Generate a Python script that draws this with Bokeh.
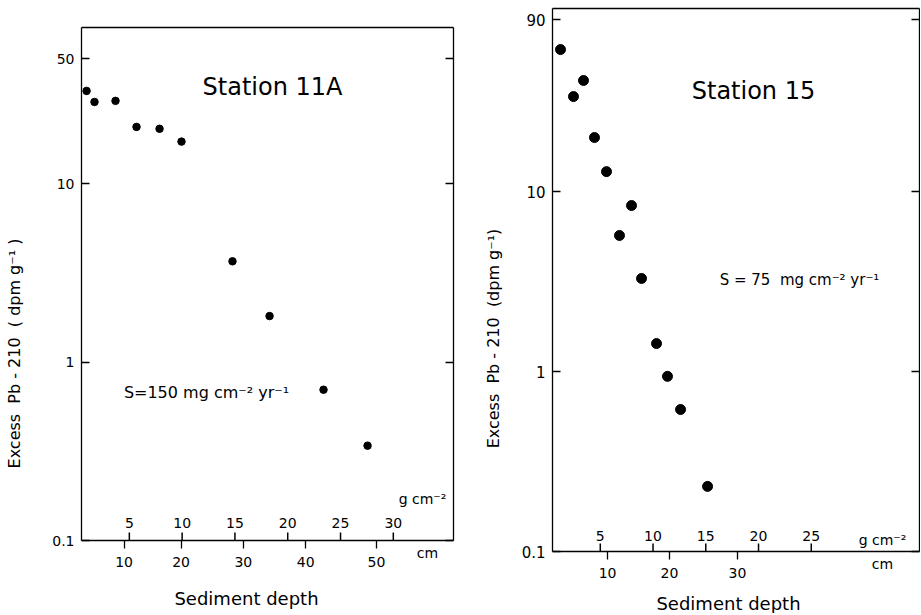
import math
from bokeh.plotting import figure
from bokeh.models import (Range1d, LinearAxis, LogAxis, FixedTicker, Label, LabelSet,
                          ColumnDataSource)
from bokeh.core.properties import value
from bokeh.layouts import row
from bokeh.embed import file_html
from bokeh.resources import INLINE

FONT = "DejaVu Sans"

# ---------------- data: Station 11A ----------------
a_mass = [0.95, 1.70, 3.69, 5.68, 7.86, 9.94, 14.77, 18.28, 23.39, 27.56]   # g cm-2
a_pb = [33.1, 28.7, 29.1, 20.8, 20.3, 17.2, 3.67, 1.81, 0.70, 0.34]         # dpm g-1
a_cm_ticks = [10, 20, 30, 40, 50]
a_cm_at_mass = [4.5, 9.9, 15.8, 21.7, 28.4]
a_g_ticks = [5, 10, 15, 20, 25, 30]
a_y_ticks = [0.1, 1, 10, 50]

# ---------------- data: Station 15 ----------------
b_mass = [1.23, 2.46, 3.41, 4.45, 5.59, 6.82, 7.96, 8.91, 10.33, 11.37, 12.61, 15.17]
b_pb = [61.5, 33.7, 41.4, 19.95, 12.9, 5.70, 8.36, 3.29, 1.43, 0.94, 0.615, 0.23]
b_cm_ticks = [10, 20, 30]
b_cm_at_mass = [5.69, 11.56, 18.0]
b_g_ticks = [5, 10, 15, 20, 25]
b_y_ticks = [0.1, 1, 10, 90]

SUP_M2 = "\u207b\u00b2"
SUP_M1 = "\u207b\u00b9"
NB = "\u00a0"

H = 613            # figure height
LW = 1.3


def style_axis(ax, size="14px"):
    ax.axis_line_color = "black"
    ax.axis_line_width = LW
    ax.major_tick_line_color = "black"
    ax.major_tick_line_width = LW
    ax.minor_tick_line_color = None
    ax.major_label_text_font = FONT
    ax.major_label_text_font_size = size
    ax.major_label_text_color = "black"


class Panel:
    """A figure whose frame fills the canvas; the boxed plot area is drawn with
    axes at fixed locations so that every label stays inside the frame."""

    def __init__(self, fig_x0, fig_w, box, xr, yr):
        bl, bt, br, bb = box
        self.box, self.xr, self.yr = box, xr, yr
        self.ppx = (br - bl) / (xr[1] - xr[0])
        self.ppd = (bb - bt) / math.log10(yr[1] / yr[0])
        xlo = xr[0] - (bl - fig_x0) / self.ppx
        xhi = xr[1] + (fig_x0 + fig_w - br) / self.ppx
        ylo = yr[0] * 10 ** (-(H - bb) / self.ppd)
        yhi = yr[1] * 10 ** (bt / self.ppd)
        self.p = figure(width=fig_w, height=H, x_range=Range1d(xlo, xhi),
                        y_range=Range1d(ylo, yhi), y_axis_type="log",
                        output_backend="svg", toolbar_location=None,
                        min_border_left=0, min_border_right=0,
                        min_border_top=0, min_border_bottom=0)
        p = self.p
        p.grid.visible = False
        p.outline_line_color = None
        p.background_fill_color = "white"
        p.border_fill_color = "white"

    def X(self, px):
        return self.xr[0] + (px - self.box[0]) / self.ppx

    def Y(self, py):
        return self.yr[0] * 10 ** ((self.box[3] - py) / self.ppd)

    def lab(self, text, px, py, size):
        self.p.add_layout(Label(x=self.X(px), y=self.Y(py), text=text,
                                text_font=FONT, text_font_size=size, text_color="black",
                                text_align="center", text_baseline="middle"))

    def text_axis(self, side, pos, text, size, standoff):
        if side == "below":
            ax = LinearAxis(fixed_location=self.yr[0])
        else:
            ax = LogAxis(fixed_location=self.xr[0])
            ax.major_label_orientation = "vertical"
        style_axis(ax, size)
        ax.ticker = FixedTicker(ticks=[pos], minor_ticks=[])
        ax.major_label_overrides = {pos: text}
        ax.axis_line_color = None
        ax.major_tick_line_color = None
        ax.major_tick_in = 0
        ax.major_tick_out = 0
        ax.major_label_standoff = standoff
        self.p.add_layout(ax, side)


def panel(fig_x0, fig_w, box, xr, yr, mass, pb, dot, cm_ticks, cm_at_mass,
          g_ticks, y_ticks, ylab_size, glab_py):
    P = Panel(fig_x0, fig_w, box, xr, yr)
    p = P.p

    # bottom axis: depth in cm (ticks out, labels below)
    xa = p.xaxis[0]
    style_axis(xa)
    xa.fixed_location = yr[0]
    xa.bounds = xr
    xa.ticker = FixedTicker(ticks=cm_at_mass, minor_ticks=[])
    xa.major_label_overrides = {m: str(c) for m, c in zip(cm_at_mass, cm_ticks)}
    xa.major_tick_in = 0
    xa.major_tick_out = 8
    xa.major_label_standoff = 8

    # left axis: Excess Pb-210
    ya = p.yaxis[0]
    style_axis(ya, ylab_size)
    ya.fixed_location = xr[0]
    ya.bounds = yr
    ya.ticker = FixedTicker(ticks=y_ticks, minor_ticks=[])
    ya.major_label_overrides = {t: str(t) for t in y_ticks}
    ya.major_tick_in = 8
    ya.major_tick_out = 0
    ya.major_label_standoff = 7

    # right border with inward ticks
    ra = LogAxis(fixed_location=xr[1], bounds=yr,
                 ticker=FixedTicker(ticks=y_ticks, minor_ticks=[]))
    style_axis(ra, "1px")
    ra.major_label_text_color = None
    ra.major_label_standoff = 0
    ra.major_tick_in = 8
    ra.major_tick_out = 0
    p.add_layout(ra, "right")

    # top border
    ta = LinearAxis(fixed_location=yr[1], bounds=xr,
                    ticker=FixedTicker(ticks=[], minor_ticks=[]))
    style_axis(ta, "1px")
    ta.major_label_text_color = None
    ta.major_tick_in = 0
    ta.major_tick_out = 0
    p.add_layout(ta, "above")

    # inward g cm-2 ticks on the bottom axis, labels above them
    y0 = P.Y(box[3])
    y1 = P.Y(box[3] - 8)
    p.segment(x0=g_ticks, x1=g_ticks, y0=[y0] * len(g_ticks), y1=[y1] * len(g_ticks),
              line_color="black", line_width=1.5)
    src = ColumnDataSource(dict(x=g_ticks, t=[str(g) for g in g_ticks]))
    p.add_layout(LabelSet(x="x", y=P.Y(glab_py), text="t", source=src,
                          text_font=value(FONT), text_font_size=value("14px"),
                          text_color="black",
                          text_align="center", text_baseline="middle"))

    p.scatter(mass, pb, size=dot, color="black")
    return P


# ---------- left panel: Station 11A ----------
P1 = panel(0, 485, (81, 27, 453, 540), (0.47, 35.7), (0.1, 75), a_mass, a_pb, 7.5,
           a_cm_ticks, a_cm_at_mass, a_g_ticks, a_y_ticks, "14px", 522)
P1.lab("Station 11A", 272, 86, "24px")
P1.lab("S=150 mg cm" + SUP_M2 + " yr" + SUP_M1, 206, 392, "16px")
P1.lab("g cm" + SUP_M2, 422, 498, "14px")
P1.text_axis("below", P1.X(427), "cm", "14px", 4)
P1.text_axis("below", P1.X(246), "Sediment depth", "18px", 47)
P1.text_axis("left", P1.Y(353),
             "Excess" + NB + NB + "Pb" + NB + "-" + NB + "210" + NB + NB + "(" + NB + "dpm g" + SUP_M1 + NB + ")",
             "16px", 58)

# ---------- right panel: Station 15 ----------
P2 = panel(485, 435, (552, 8, 919, 551), (0.47, 35.26), (0.1, 104), b_mass, b_pb, 10,
           b_cm_ticks, b_cm_at_mass, b_g_ticks, b_y_ticks, "15px", 535)
P2.lab("Station 15", 753, 90, "24px")
P2.lab("S = 75" + NB + NB + "mg cm" + SUP_M2 + " yr" + SUP_M1, 799, 279, "15px")
P2.lab("g cm" + SUP_M2, 882, 539, "14px")
P2.text_axis("below", P2.X(882), "cm", "14px", 4)
P2.text_axis("below", P2.X(728), "Sediment depth", "18px", 41)
P2.text_axis("left", P2.Y(338),
             "Excess" + NB + NB + "Pb" + NB + "-" + NB + "210" + NB + NB + "(dpm g" + SUP_M1 + ")",
             "16px", 50)

layout = row(P1.p, P2.p)
open("out.html", "w").write(file_html(layout, INLINE))
